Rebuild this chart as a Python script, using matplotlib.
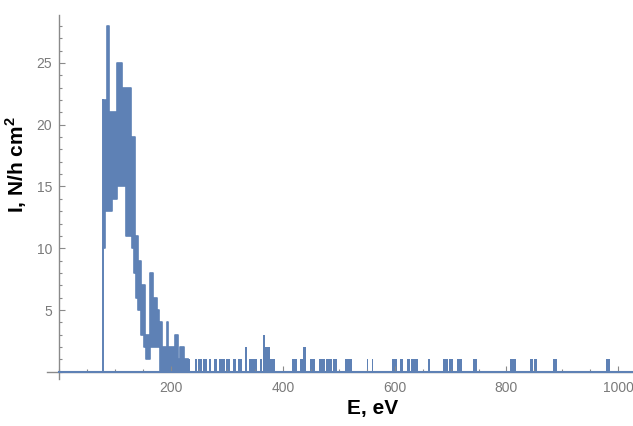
import numpy as np
import matplotlib.pyplot as plt
from matplotlib.ticker import MultipleLocator, FixedLocator

plt.rcParams['font.family'] = ['Liberation Sans', 'DejaVu Sans']
plt.rcParams['mathtext.fontset'] = 'custom'
plt.rcParams['mathtext.bf'] = 'Liberation Sans:bold'

# dense part of the spectrum: bin edges (eV), lower and upper envelope of the counts
band_edges = [79, 82, 86, 89, 94, 103, 112, 119, 128, 130, 134, 135, 138, 141, 147,
              152, 153, 156, 159, 162, 168, 174, 178, 181, 183, 192, 195, 207, 213,
              216, 223, 231]
band_lo = [10, 13, 13, 13, 14, 15, 15, 11, 11, 10, 8, 8, 6, 5, 3,
           2, 2, 1, 1, 2, 2, 2, 2, 0, 0, 0, 0, 0, 0, 0, 0]
band_hi = [22, 22, 28, 21, 21, 25, 23, 23, 19, 19, 19, 11, 11, 9, 7,
           7, 3, 3, 3, 8, 6, 5, 4, 4, 2, 4, 2, 3, 1, 2, 1]

# sparse tail: start (eV), end (eV), counts
tail_start = [231, 243, 249, 258, 267, 276, 285, 299, 311, 320, 332, 339, 359, 364, 368,
              377, 417, 431, 436, 448, 465, 478, 490, 511, 550, 559, 595, 610, 622, 630,
              636, 660, 687, 698, 711, 741, 806, 842, 850, 883, 978]
tail_end = [234, 246, 256, 265, 272, 282, 296, 305, 316, 326, 335, 353, 362, 368, 377,
            386, 425, 436, 441, 457, 475, 487, 496, 523, 553, 562, 604, 615, 627, 636,
            642, 664, 696, 705, 720, 748, 817, 847, 854, 890, 986]
tail_count = [1, 1, 1, 1, 1, 1, 1, 1, 1, 1, 2, 1, 1, 3, 2,
              1, 1, 1, 2, 1, 1, 1, 1, 1, 1, 1, 1, 1, 1, 1,
              1, 1, 1, 1, 1, 1, 1, 1, 1, 1, 1]

x_ticks = [200, 400, 600, 800, 1000]
y_ticks = [5, 10, 15, 20, 25]

blue = '#5E81B5'
axis_gray = '#8a8a8a'

fig = plt.figure(figsize=(6.33, 4.26), dpi=100)
ax = fig.add_axes([0.0742, 0.1099, 0.9255, 0.8554])

lo = band_lo + [band_lo[-1]]
hi = band_hi + [band_hi[-1]]
ax.fill_between(band_edges, lo, hi, step='post', color=blue, lw=0)
ax.step(band_edges, hi, where='post', color=blue, lw=1.2)
ax.step(band_edges, lo, where='post', color=blue, lw=1.2)
ax.plot([band_edges[0], band_edges[0]], [0, band_hi[0]], color=blue, lw=1.4)

widths = np.array(tail_end) - np.array(tail_start)
ax.bar(tail_start, tail_count, width=widths, align='edge', color=blue, lw=0)

ax.set_xlim(-22, 1026)
ax.set_ylim(-0.6, 28.9)
ax.plot([0, 1026], [0, 0], color=blue, lw=1.5, zorder=3)

for s in ['top', 'right']:
    ax.spines[s].set_visible(False)
ax.spines['left'].set_position(('data', 0))
ax.spines['bottom'].set_position(('data', 0))
for s in ['left', 'bottom']:
    ax.spines[s].set_color(axis_gray)
    ax.spines[s].set_linewidth(1.0)

ax.xaxis.set_major_locator(FixedLocator(x_ticks))
ax.yaxis.set_major_locator(FixedLocator(y_ticks))
ax.xaxis.set_minor_locator(MultipleLocator(50))
ax.yaxis.set_minor_locator(MultipleLocator(1))
ax.tick_params(which='both', direction='in', color=axis_gray, width=0.8)
ax.tick_params(which='major', length=4)
ax.tick_params(which='minor', length=2.2)
ax.tick_params(axis='x', which='major', labelsize=10, labelcolor='#7a7a7a', pad=7)
ax.tick_params(axis='y', which='major', labelsize=10, labelcolor='#7a7a7a', pad=5)

fig.text(0.588, 0.04, 'E, eV', fontsize=15, fontweight='bold', ha='center', va='center')
fig.text(0.025, 0.613, r'I, N/h cm$^{\mathbf{2}}$', fontsize=15, fontweight='bold',
         rotation=90, ha='center', va='center')

fig.savefig('out.png', dpi=100)
